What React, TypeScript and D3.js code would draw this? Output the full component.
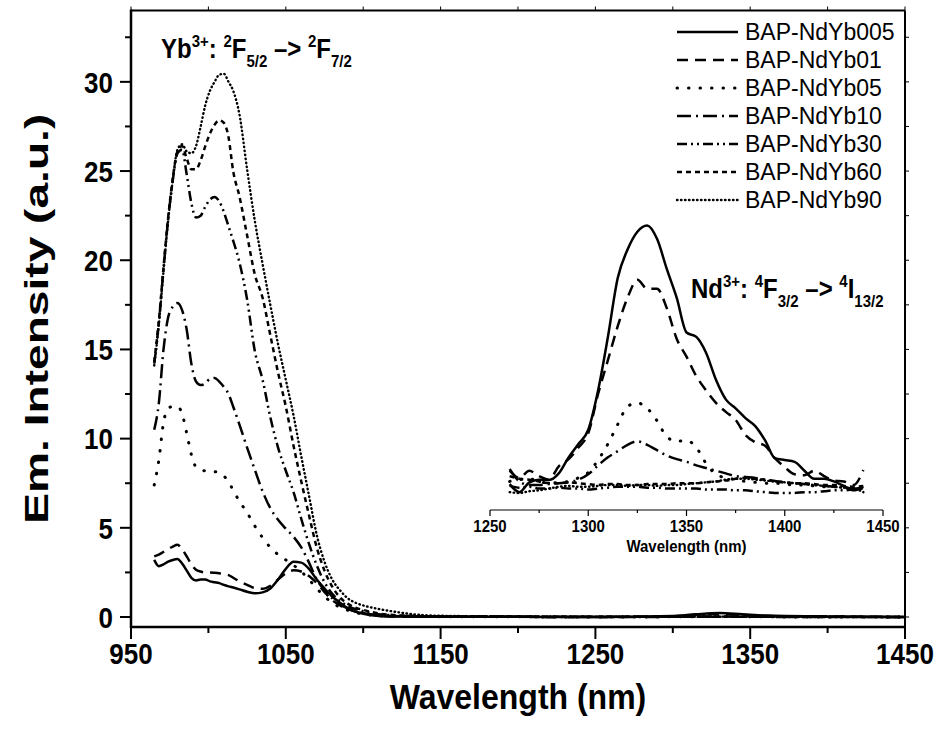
import React from 'react';
import * as d3 from 'd3';

// ---- data ----
const seriesNames = ['BAP-NdYb005', 'BAP-NdYb01', 'BAP-NdYb05', 'BAP-NdYb10', 'BAP-NdYb30', 'BAP-NdYb60', 'BAP-NdYb90'];

// main spectrum wavelength grid (nm)
const mainWl = [965, 968, 971, 974, 977, 980, 983, 986, 989, 992, 995, 998, 1001, 1004, 1007, 1010, 1013, 1016, 1020, 1025,
  1030, 1035, 1040, 1045, 1050, 1055, 1060, 1065, 1070, 1075, 1080, 1085, 1090, 1095, 1100, 1110, 1120, 1135, 1150, 1200,
  1250, 1300, 1315, 1330, 1345, 1360, 1400, 1450];

const mainNdYb005 = [3.2, 2.85, 2.95, 3.1, 3.2, 3.25, 3.0, 2.6, 2.2, 2.05, 2.1, 2.1, 2.0, 1.95, 1.9, 1.8, 1.72, 1.65, 1.55, 1.42,
  1.33, 1.38, 1.6, 2.1, 2.7, 3.1, 3.05, 2.7, 2.1, 1.6, 1.15, 0.8, 0.5, 0.3, 0.18, 0.06, 0.03, 0.02, 0.02, 0.01,
  0.0, 0.05, 0.15, 0.22, 0.15, 0.08, 0.03, 0.0];
const mainNdYb01 = [3.4, 3.5, 3.65, 3.8, 3.95, 4.05, 3.8, 3.4, 2.95, 2.65, 2.55, 2.5, 2.5, 2.48, 2.45, 2.4, 2.35, 2.2, 2.0, 1.8,
  1.62, 1.58, 1.75, 2.1, 2.45, 2.62, 2.55, 2.3, 1.9, 1.4, 0.95, 0.65, 0.45, 0.3, 0.2, 0.08, 0.04, 0.03, 0.02, 0.01,
  0.0, 0.04, 0.12, 0.18, 0.12, 0.06, 0.03, 0.0];
const mainNdYb05 = [7.4, 8.8, 10.9, 11.7, 11.8, 11.8, 11.4, 10.3, 9.1, 8.4, 8.25, 8.2, 8.2, 8.15, 8.1, 7.9, 7.6, 7.1, 6.5, 5.85,
  5.1, 4.45, 3.9, 3.5, 3.2, 2.9, 2.55, 2.1, 1.6, 1.15, 0.8, 0.55, 0.38, 0.25, 0.16, 0.07, 0.04, 0.03, 0.02, 0.01,
  0.0, 0.01, 0.02, 0.03, 0.02, 0.01, 0.0, 0.0];
const mainNdYb10 = [10.5, 12.0, 15.0, 16.8, 17.4, 17.6, 17.2, 16.1, 14.2, 13.2, 13.0, 13.1, 13.35, 13.4, 13.2, 12.9, 12.5, 11.8, 10.8, 9.5,
  8.25, 7.05, 6.1, 5.45, 4.95, 4.5, 3.9, 3.05, 2.1, 1.5, 1.05, 0.7, 0.48, 0.33, 0.22, 0.1, 0.05, 0.03, 0.02, 0.01,
  0.0, 0.01, 0.02, 0.03, 0.02, 0.01, 0.0, 0.0];
const mainNdYb30 = [14.2, 16.5, 19.5, 22.3, 24.5, 26.0, 26.2, 24.8, 23.2, 22.4, 22.5, 23.0, 23.4, 23.55, 23.3, 22.7, 21.9, 21.1, 19.9, 17.8,
  14.9, 13.3, 11.2, 9.5, 8.2, 7.0, 5.5, 4.1, 2.9, 1.95, 1.3, 0.9, 0.62, 0.45, 0.33, 0.16, 0.09, 0.05, 0.03, 0.02,
  0.01, 0.01, 0.01, 0.02, 0.01, 0.01, 0.0, 0.0];
const mainNdYb60 = [14.3, 16.6, 19.6, 22.4, 24.6, 26.1, 26.4, 25.7, 25.1, 25.1, 25.6, 26.4, 27.1, 27.6, 27.85, 27.7, 26.9, 25.0, 23.6, 21.4,
  19.2, 17.9, 15.8, 13.7, 11.8, 9.6, 7.6, 5.7, 3.9, 2.6, 1.7, 1.1, 0.75, 0.52, 0.4, 0.2, 0.11, 0.06, 0.04, 0.02,
  0.01, 0.01, 0.02, 0.02, 0.02, 0.01, 0.01, 0.0];
const mainNdYb90 = [14.1, 16.4, 19.4, 22.2, 24.5, 26.2, 26.5, 26.1, 26.0, 26.4, 27.5, 28.7, 29.5, 30.0, 30.4, 30.45, 30.0, 29.5, 28.2, 25.1,
  22.2, 19.8, 17.5, 15.3, 13.3, 11.3, 9.0, 6.8, 4.6, 3.1, 2.1, 1.5, 1.05, 0.8, 0.65, 0.45, 0.3, 0.13, 0.07, 0.03,
  0.01, 0.01, 0.02, 0.02, 0.02, 0.01, 0.01, 0.0];

// inset (Nd3+ band), plotted against the main intensity scale
const insetWl = [1260, 1265, 1270, 1275, 1280, 1285, 1290, 1295, 1300, 1305, 1310, 1315, 1320, 1325, 1330, 1335, 1340, 1345, 1350,
  1355, 1360, 1365, 1370, 1375, 1380, 1385, 1390, 1395, 1400, 1405, 1410, 1415, 1420, 1425, 1430, 1435, 1440];

const insetNdYb005 = [7.45, 7.0, 7.55, 7.7, 7.68, 8.05, 8.95, 9.7, 10.5, 12.7, 15.7, 19.0, 20.6, 21.6, 21.95, 21.2, 19.5, 17.9, 15.95,
  15.7, 14.8, 13.3, 12.2, 11.7, 11.15, 10.7, 9.9, 8.9, 8.8, 8.7, 8.2, 7.75, 7.75, 7.6, 7.35, 7.1, 7.3];
const insetNdYb01 = [8.2, 7.8, 8.2, 7.9, 7.7, 8.45, 8.85, 9.5, 10.3, 12.5, 14.4, 16.3, 17.9, 18.9, 18.4, 18.4, 17.3, 15.6, 14.6,
  13.5, 12.7, 12.0, 11.5, 11.05, 10.2, 9.8, 9.6, 8.9, 8.4, 8.0, 7.95, 8.2, 7.9, 7.65, 7.6, 7.4, 8.24];
const insetNdYb05 = [7.6, 7.7, 7.75, 7.6, 7.5, 7.55, 7.6, 7.8, 8.1, 8.8, 9.7, 10.8, 11.8, 12.0, 11.7, 11.0, 10.1, 9.85, 9.9,
  9.5, 8.6, 8.0, 7.8, 7.7, 7.6, 7.55, 7.5, 7.5, 7.45, 7.4, 7.4, 7.35, 7.3, 7.3, 7.25, 7.2, 7.2];
const insetNdYb10 = [8.3, 7.6, 7.4, 7.4, 7.45, 7.5, 7.55, 7.7, 8.0, 8.5, 8.95, 9.3, 9.65, 9.85, 9.65, 9.35, 9.05, 8.85, 8.7,
  8.5, 8.35, 8.2, 8.05, 7.9, 7.85, 7.8, 7.7, 7.62, 7.55, 7.5, 7.45, 7.4, 7.35, 7.3, 7.25, 7.2, 7.2];
const insetNdYb30 = [7.35, 7.25, 7.3, 7.2, 7.2, 7.25, 7.2, 7.2, 7.15, 7.2, 7.25, 7.3, 7.3, 7.3, 7.25, 7.25, 7.2, 7.2, 7.2,
  7.2, 7.15, 7.15, 7.15, 7.1, 7.1, 7.05, 7.0, 6.95, 6.95, 6.95, 7.0, 7.0, 7.05, 7.1, 7.1, 7.15, 7.2];
const insetNdYb60 = [7.9, 7.75, 7.7, 7.6, 7.5, 7.5, 7.55, 7.5, 7.45, 7.4, 7.45, 7.45, 7.4, 7.4, 7.45, 7.45, 7.45, 7.5, 7.5,
  7.5, 7.55, 7.6, 7.65, 7.75, 7.8, 7.75, 7.7, 7.6, 7.55, 7.5, 7.5, 7.45, 7.4, 7.4, 7.35, 7.3, 7.35];
const insetNdYb90 = [7.0, 6.95, 7.05, 7.1, 7.2, 7.3, 7.35, 7.3, 7.3, 7.35, 7.4, 7.4, 7.35, 7.4, 7.4, 7.35, 7.4, 7.4, 7.45,
  7.5, 7.55, 7.6, 7.7, 7.75, 7.75, 7.7, 7.65, 7.6, 7.55, 7.5, 7.45, 7.4, 7.35, 7.3, 7.25, 7.2, 7.0];

const mainSeries = [mainNdYb005, mainNdYb01, mainNdYb05, mainNdYb10, mainNdYb30, mainNdYb60, mainNdYb90];
const insetSeries = [insetNdYb005, insetNdYb01, insetNdYb05, insetNdYb10, insetNdYb30, insetNdYb60, insetNdYb90];

const xTicks = [950, 1050, 1150, 1250, 1350, 1450];
const xMinor = [1000, 1100, 1200, 1300, 1400];
const yTicks = [0, 5, 10, 15, 20, 25, 30];
const yMinor = [2.5, 7.5, 12.5, 17.5, 22.5, 27.5, 32.5];
const insetTicks = [1250, 1300, 1350, 1400, 1450];
const insetMinor = [1275, 1325, 1375, 1425];

// line styles per series
const styles = [
  { dash: 'none', width: 2.5, cap: 'butt' },
  { dash: '11 7', width: 2.5, cap: 'butt' },
  { dash: '0.5 11', width: 3, cap: 'round' },
  { dash: '14 5 2 5', width: 2.5, cap: 'butt' },
  { dash: '10 4 2 4 2 4', width: 2.5, cap: 'butt' },
  { dash: '5 4', width: 2.5, cap: 'butt' },
  { dash: '0.5 3.5', width: 2.4, cap: 'round' },
];

const FONT = '"Liberation Sans", Arial, Helvetica, sans-serif';

export default function App() {
  const left = 131, right = 905, top = 10.5, bottom = 627;
  const x = d3.scaleLinear().domain([950, 1450]).range([left, right]);
  const y = d3.scaleLinear().domain([-0.56, 34]).range([bottom, top]);
  const xi = d3.scaleLinear().domain([1250, 1450]).range([490, 883]);
  const insetAxisY = y(6);

  const mainLine = d3.line<number>()
    .x((_, i) => x(mainWl[i]))
    .y(d => y(d))
    .curve(d3.curveMonotoneX);
  const insetLine = d3.line<number>()
    .x((_, i) => xi(insetWl[i]))
    .y(d => y(d))
    .curve(d3.curveMonotoneX);

  const nb = '\u00A0';
  // the reference's bold lettering is a little taller than it is wide
  const tall = (tx: number, ty: number, k = 1.15) => `translate(${tx},${ty}) scale(1,${k})`;

  return (
    <svg width={940} height={733} style={{ position: 'absolute', left: 0, top: 0, background: '#fff' }} fontFamily={FONT}>
      <rect width={940} height={733} fill="#fff" />
      <defs>
        <clipPath id="plotClip">
          <rect x={left} y={top} width={right - left} height={bottom - top} />
        </clipPath>
      </defs>

      {/* main curves */}
      <g clipPath="url(#plotClip)">
        {mainSeries.map((s, k) => (
          <path key={k} d={mainLine(s) || ''} fill="none" stroke="#000"
            strokeWidth={styles[k].width} strokeDasharray={styles[k].dash}
            strokeLinecap={styles[k].cap as any} strokeLinejoin="round" />
        ))}
      </g>

      {/* inset curves */}
      {insetSeries.map((s, k) => (
        <path key={k} d={insetLine(s) || ''} fill="none" stroke="#000"
          strokeWidth={styles[k].width} strokeDasharray={styles[k].dash}
          strokeLinecap={styles[k].cap as any} strokeLinejoin="round" />
      ))}

      {/* frame */}
      <line x1={left} x2={right} y1={top} y2={top} stroke="#000" strokeWidth={2} />
      <line x1={right} x2={right} y1={top} y2={bottom} stroke="#000" strokeWidth={2} />
      <line x1={left} x2={left} y1={top - 1} y2={bottom + 1} stroke="#000" strokeWidth={2.5} />
      <line x1={left - 1} x2={right + 1} y1={bottom} y2={bottom} stroke="#000" strokeWidth={2.5} />

      {/* x axis ticks */}
      {xTicks.map(t => (
        <g key={t}>
          <line x1={x(t)} x2={x(t)} y1={bottom} y2={bottom + 12} stroke="#000" strokeWidth={2} />
          <line x1={x(t)} x2={x(t)} y1={top} y2={top - 4} stroke="#000" strokeWidth={1} />
          <text transform={tall(x(t), 664)} textAnchor="middle" fontSize={26} fontWeight="bold">{t}</text>
        </g>
      ))}
      {xMinor.map(t => (
        <g key={t}>
          <line x1={x(t)} x2={x(t)} y1={bottom} y2={bottom + 6} stroke="#000" strokeWidth={2} />
          <line x1={x(t)} x2={x(t)} y1={top} y2={top - 4} stroke="#000" strokeWidth={1} />
        </g>
      ))}

      {/* y axis ticks */}
      {yTicks.map(t => (
        <g key={t}>
          <line x1={left} x2={left - 11} y1={y(t)} y2={y(t)} stroke="#000" strokeWidth={2} />
          <line x1={right} x2={right + 4} y1={y(t)} y2={y(t)} stroke="#000" strokeWidth={1} />
          <text transform={tall(113, y(t) + 10.7)} textAnchor="end" fontSize={26} fontWeight="bold">{t}</text>
        </g>
      ))}
      {yMinor.map(t => (
        <g key={t}>
          <line x1={left} x2={left - 6} y1={y(t)} y2={y(t)} stroke="#000" strokeWidth={2} />
          <line x1={right} x2={right + 4} y1={y(t)} y2={y(t)} stroke="#000" strokeWidth={1} />
        </g>
      ))}

      {/* axis titles */}
      <text transform={tall(518, 709, 1.08)} textAnchor="middle" fontSize={32} fontWeight="bold">Wavelength (nm)</text>
      <text transform={`translate(48, ${(top + bottom) / 2}) rotate(-90)`} textAnchor="middle" fontSize={33}
        fontWeight="bold" textLength={410} lengthAdjust="spacingAndGlyphs">Em. Intensity (a.u.)</text>

      {/* inset axis */}
      <line x1={xi(1250)} x2={xi(1450)} y1={insetAxisY} y2={insetAxisY} stroke="#000" strokeWidth={1.2} />
      {insetTicks.map(t => (
        <g key={t}>
          <line x1={xi(t)} x2={xi(t)} y1={insetAxisY} y2={insetAxisY + 6} stroke="#000" strokeWidth={1.2} />
          <text transform={tall(xi(t), insetAxisY + 22, 1.1)} textAnchor="middle" fontSize={15} fontWeight="bold">{t}</text>
        </g>
      ))}
      {insetMinor.map(t => (
        <line key={t} x1={xi(t)} x2={xi(t)} y1={insetAxisY} y2={insetAxisY + 3} stroke="#000" strokeWidth={1.2} />
      ))}
      <text transform={tall((xi(1250) + xi(1450)) / 2, insetAxisY + 42, 1.1)} textAnchor="middle" fontSize={15} fontWeight="bold">Wavelength (nm)</text>

      {/* band annotations */}
      <text transform={tall(161, 58, 1.15)} fontSize={24} fontWeight="bold">
        Yb<tspan dy={-10} fontSize={15}>3+</tspan>
        <tspan dy={10}>:{nb}</tspan>
        <tspan dy={-10} fontSize={15}>2</tspan>
        <tspan dy={10}>F</tspan>
        <tspan dy={8} fontSize={15}>5/2</tspan>
        <tspan dy={-8}>{nb}{'\u2013>'}{nb}</tspan>
        <tspan dy={-10} fontSize={15}>2</tspan>
        <tspan dy={10}>F</tspan>
        <tspan dy={8} fontSize={15}>7/2</tspan>
      </text>
      <text transform={tall(691, 298, 1.15)} fontSize={24} fontWeight="bold">
        Nd<tspan dy={-10} fontSize={15}>3+</tspan>
        <tspan dy={10}>:{nb}</tspan>
        <tspan dy={-10} fontSize={15}>4</tspan>
        <tspan dy={10}>F</tspan>
        <tspan dy={8} fontSize={15}>3/2</tspan>
        <tspan dy={-8}>{nb}{'\u2013>'}{nb}</tspan>
        <tspan dy={-10} fontSize={15}>4</tspan>
        <tspan dy={10}>I</tspan>
        <tspan dy={8} fontSize={15}>13/2</tspan>
      </text>

      {/* legend */}
      {seriesNames.map((name, k) => {
        const ly = 32 + k * 28;
        return (
          <g key={name}>
            <line x1={677} x2={738} y1={ly} y2={ly} stroke="#000" strokeWidth={styles[k].width}
              strokeDasharray={styles[k].dash} strokeLinecap={styles[k].cap as any} />
            <text x={745} y={ly} dy="0.36em" fontSize={23}>{name}</text>
          </g>
        );
      })}
    </svg>
  );
}
